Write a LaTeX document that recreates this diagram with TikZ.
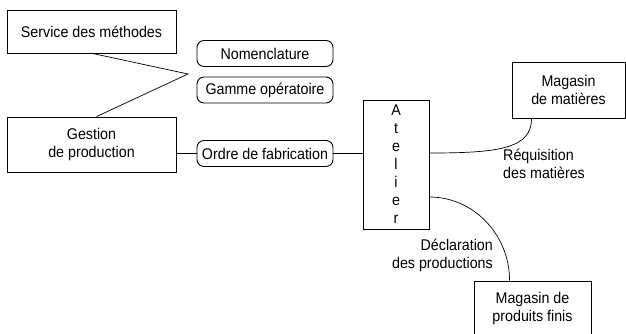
\documentclass[tikz,border=0pt]{standalone}
\usepackage{fontspec}
\setmainfont[FakeStretch=0.92]{Liberation Sans}
\begin{document}
\begin{tikzpicture}[x=1pt,y=-1pt,
  every node/.style={font=\fontsize{15.5}{18}\selectfont, inner sep=0pt, align=center},
  box/.style={draw, line width=0.9pt},
  tag/.style={draw, line width=0.9pt, rounded corners=7pt, minimum width=136pt, minimum height=26pt},
  link/.style={line width=0.7pt},
  note/.style={font=\fontsize{15.5}{18}\selectfont}]
\clip (0,0) rectangle (626,333);
\useasboundingbox (0,0) rectangle (626,333);

% organisation boxes
\node[box, minimum width=169pt, minimum height=43pt] (svc) at (91.5,31.5) {Service des méthodes};
\node[box, minimum width=169pt, minimum height=55pt] (gest) at (91.5,144.5) {Gestion\\de production};
\node[box, minimum width=66pt, minimum height=129pt] (atel) at (396,164.5)
  {\fontsize{15.5}{16.2}\selectfont A\\t\\e\\l\\i\\e\\r};
\node[box, minimum width=113pt, minimum height=56pt] (mat) at (568.5,90) {Magasin\\de matières};
\node[box, minimum width=117pt, minimum height=54pt] (pf) at (532.5,308) {Magasin de\\produits finis};

% documents
\node[tag] (nom) at (265,53.5) {Nomenclature};
\node[tag] (gam) at (265,90) {Gamme opératoire};
\node[tag] (of) at (265,153.5) {Ordre de fabrication};

% flow labels
\node[note, anchor=west, align=left] (req) at (503,164) {Réquisition\\des matières};
\node[note, anchor=east, align=right] (decl) at (493,255.5) {Déclaration\\des productions};

% connectors
\coordinate (kink) at (188,74);
\draw[link] ([xshift=86pt]svc.south west) -- (kink) -- ([xshift=90pt]gest.north west);
\draw[link] (gest.east |- of.west) -- (of.west);
\draw[link] (of.east) -- (of.east -| atel.west);
\draw[link] ([yshift=11.5pt]atel.east) .. controls +(70,0) and +(0,30) .. ([xshift=20pt]mat.south west);
\draw[link] ([yshift=-32.5pt]atel.east) .. controls +(44,0) and +(0,-46) .. ([xshift=36pt]pf.north west);
\end{tikzpicture}
\end{document}
